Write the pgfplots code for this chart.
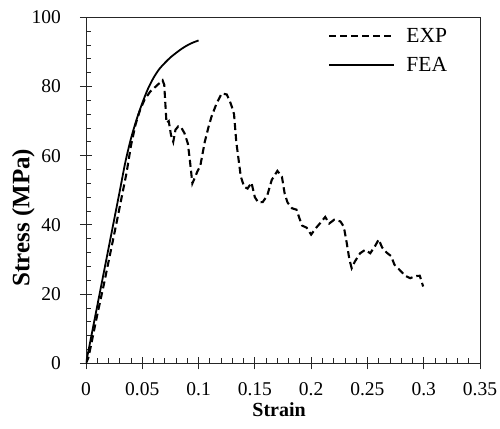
\documentclass[border=0pt]{standalone}
\usepackage{fontspec}
\setmainfont{Liberation Serif}
\usepackage{pgfplots}
\pgfplotsset{compat=1.18}
\pgfplotsset{longline/.style={legend image code/.code={\draw[##1] (0pt,0pt) -- (65pt,0pt);}}}
\begin{document}
\begin{tikzpicture}
\useasboundingbox (-86pt,-64.7pt) rectangle (414pt,363.3pt);
\begin{axis}[
  at={(0,0)}, anchor=south west,
  width=394pt, height=346pt, scale only axis,
  xmin=0, xmax=0.35, ymin=0, ymax=100,
  xtick={0.01,0.02,0.03,0.04,0.06,0.07,0.08,0.09,0.11,0.12,0.13,0.14,0.16,0.17,0.18,0.19,0.21,0.22,0.23,0.24,0.26,0.27,0.28,0.29,0.31,0.32,0.33,0.34},
  ytick={4,8,12,16,24,28,32,36,44,48,52,56,64,68,72,76,84,88,92,96},
  xticklabels={}, yticklabels={},
  xtick pos=bottom, ytick pos=left,
  tick align=inside, major tick length=5pt,
  tick style={black!85, line width=0.8pt},
  axis line style={draw=none},
]
\end{axis}
\begin{axis}[
  at={(0,0)}, anchor=south west,
  width=394pt, height=346pt, scale only axis,
  xmin=0, xmax=0.35, ymin=0, ymax=100,
  xtick={0,0.05,0.1,0.15,0.2,0.25,0.3,0.35},
  xticklabels={0,0.05,0.1,0.15,0.2,0.25,0.3,0.35},
  ytick={0,20,40,60,80,100},
  yticklabels={0,20,40,60,80,100},
  xtick pos=bottom, ytick pos=left,
  tick align=center,
  major tick length=12pt,
  tick style={black!85, line width=0.8pt},
  axis line style={black!85, line width=0.8pt},
  /pgf/number format/assume math mode=true,
  xticklabel style={font=\fontsize{19.5}{21}\selectfont, inner sep=0pt},
  yticklabel style={font=\fontsize{19.5}{21}\selectfont, inner sep=0pt, anchor=east},
  xticklabel shift=13pt,
  yticklabel shift=19pt,
  xlabel={\textbf{Strain}},
  ylabel={\textbf{Stress (MPa)}},
  xlabel style={font=\fontsize{20}{22}\selectfont, at={(axis description cs:0.49,-0.1543)}, anchor=base, inner sep=0pt},
  ylabel style={font=\fontsize{25}{27}\selectfont, at={(axis description cs:-0.159,0.421)}, anchor=center, inner sep=0pt},
  legend style={draw=none, fill=none, at={(axis description cs:0.607,0.98)}, anchor=north west, font=\fontsize{21.5}{23}\selectfont, cells={anchor=west}, row sep=9pt, column sep=9pt},
]
\addplot[black, line width=2.1pt, dash pattern=on 7pt off 4pt, longline] coordinates {
(0,0) (0.002,1.5) (0.004,4.5) (0.01,14) (0.016,23) (0.022,32.5) (0.028,42)
(0.032,48.5) (0.036,55) (0.04,63) (0.044,69) (0.048,73.2) (0.052,76.2)
(0.057,78.5) (0.062,80) (0.066,81.2) (0.068,81.8) (0.0695,80.5) (0.0705,75)
(0.0715,69.5) (0.0735,70) (0.0755,66) (0.0775,64) (0.0795,67.5) (0.082,68.5)
(0.0845,68.2) (0.0875,66.5) (0.0905,63.5) (0.0925,58) (0.0945,52) (0.0965,53.5)
(0.099,55.5) (0.1015,57) (0.1055,64) (0.109,68.5) (0.1115,71.3) (0.116,75.1)
(0.1205,78) (0.125,77.7) (0.1275,76) (0.1295,74.2) (0.1315,72) (0.1335,64)
(0.1355,59) (0.1375,54) (0.1405,51) (0.1435,50.5) (0.147,52.2) (0.150,48)
(0.153,46.5) (0.157,46.6) (0.161,48.5) (0.165,53) (0.170,55.6) (0.174,54)
(0.1765,49) (0.179,46.5) (0.183,44.8) (0.187,44.4) (0.1895,42) (0.192,39.8)
(0.196,39.2) (0.200,37.2) (0.204,39) (0.208,40.5) (0.2125,42.3) (0.216,40.4)
(0.2205,41.5) (0.226,41) (0.229,39.5) (0.2315,35) (0.234,30) (0.236,27.5)
(0.239,29.5) (0.2435,31.8) (0.248,32.8) (0.2525,31.8) (0.257,34) (0.260,35.8)
(0.263,33.5) (0.267,32) (0.271,31) (0.274,28.5) (0.278,27.2) (0.2835,25.3)
(0.288,24.6) (0.2925,25.2) (0.2965,25.3) (0.2995,22.2)
};
\addlegendentry{EXP}
\addplot[black, line width=1.8pt, smooth, longline] coordinates {
(0,0) (0.01,16.6) (0.02,33.2) (0.03,49.8) (0.035,58.2) (0.04,65) (0.045,70.5)
(0.05,75.2) (0.055,79.3) (0.06,82.5) (0.065,85) (0.07,86.8) (0.075,88.4)
(0.08,89.7) (0.085,90.9) (0.09,91.9) (0.095,92.7) (0.1,93.3)
};
\addlegendentry{FEA}
\end{axis}
\end{tikzpicture}
\end{document}
